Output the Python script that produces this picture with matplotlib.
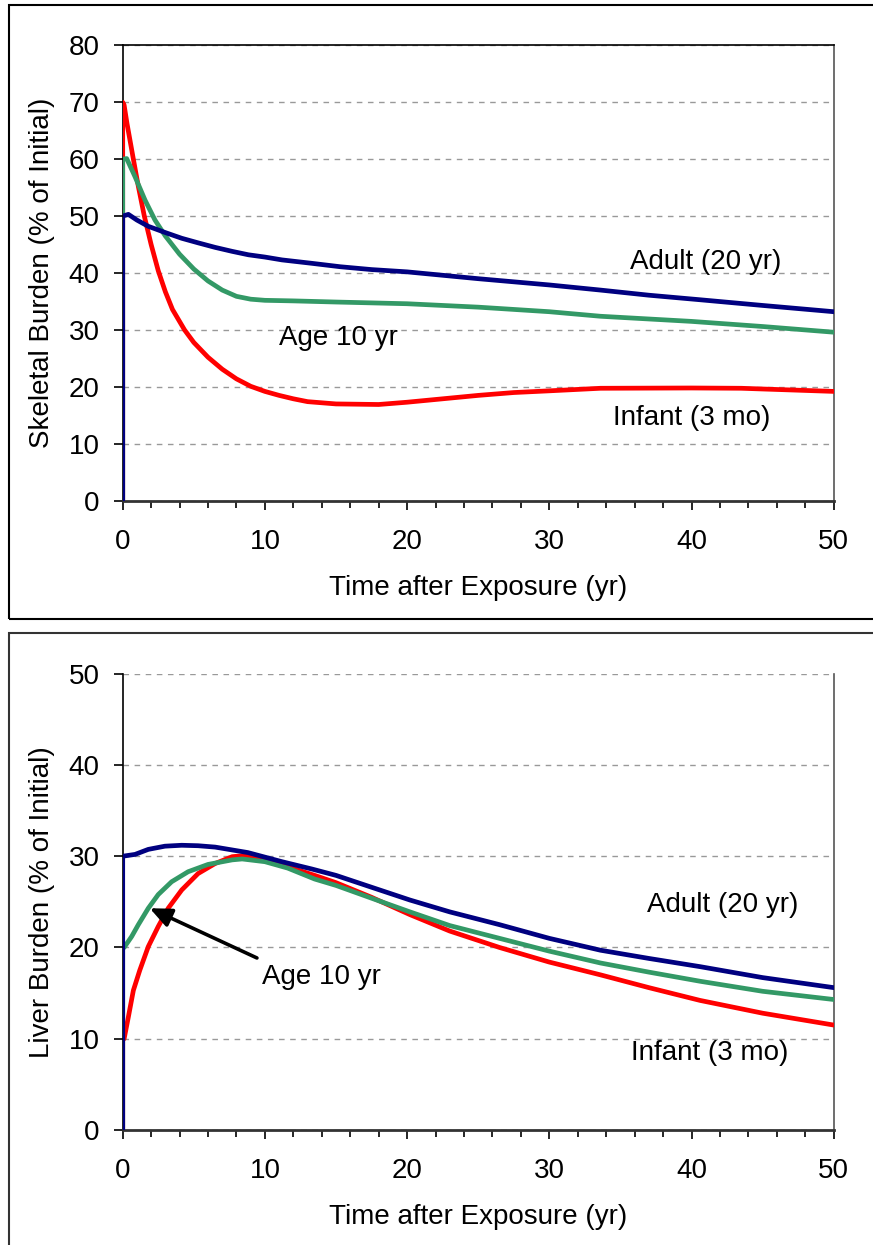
import matplotlib.pyplot as plt
from matplotlib.patches import Rectangle
from matplotlib.ticker import MultipleLocator

plt.rcParams['font.family'] = ['Liberation Sans', 'DejaVu Sans']

# skeletal burden (% of initial)
sk_adult_x = [0, 0, 0.4, 1.0, 1.8, 3.0, 4.15, 5.3, 6.5, 7.7, 8.84, 10, 11.2, 13.3, 15.3, 17.5, 20, 25, 30, 33.6, 37, 40.6, 45, 50]
sk_adult_y = [0, 50, 50.3, 49.3, 48.2, 47.1, 46.1, 45.3, 44.5, 43.8, 43.2, 42.8, 42.3, 41.7, 41.1, 40.6, 40.2, 39.0, 37.9, 37.0, 36.1, 35.3, 34.3, 33.2]

sk_age10_x = [0, 0, 0.28, 0.87, 1.57, 2.27, 3.0, 4.0, 5.0, 6.0, 7.0, 8.0, 9.0, 10, 12, 15, 20, 25, 30, 33.6, 40, 45, 50]
sk_age10_y = [0, 60, 60.1, 56.9, 52.8, 49.3, 46.5, 43.3, 40.7, 38.6, 37.0, 35.9, 35.4, 35.2, 35.1, 34.9, 34.6, 34.0, 33.2, 32.4, 31.5, 30.6, 29.6]

sk_infant_x = [0, 0, 0.1, 0.3, 0.75, 1.1, 1.52, 2.0, 2.5, 3.0, 3.5, 4.35, 5.0, 6.0, 7.0, 8.0, 9.0, 10, 11, 12, 13, 15, 18, 20, 22.5, 25, 27.5, 30, 33.6, 40, 43.5, 50]
sk_infant_y = [0, 70, 69.5, 66.3, 60.0, 55.2, 50.0, 45.0, 40.4, 36.7, 33.6, 30.0, 27.8, 25.2, 23.1, 21.4, 20.1, 19.2, 18.5, 17.9, 17.4, 17.0, 16.9, 17.3, 17.9, 18.5, 19.0, 19.3, 19.75, 19.8, 19.75, 19.2]

# liver burden (% of initial)
lv_adult_x = [0, 0, 0.87, 1.8, 2.97, 4.15, 5.3, 6.5, 8.8, 11.2, 13.3, 15, 17.5, 20.2, 23, 26.5, 30, 33.6, 37, 40.6, 45, 50]
lv_adult_y = [0, 30, 30.2, 30.75, 31.1, 31.2, 31.15, 31.0, 30.4, 29.4, 28.6, 27.9, 26.6, 25.2, 23.9, 22.5, 21.0, 19.7, 18.8, 17.9, 16.7, 15.6]

lv_age10_x = [0, 0, 0.1, 0.63, 1.1, 1.8, 2.5, 3.44, 4.6, 6.0, 7.7, 8.4, 10, 11.6, 13.5, 15, 17.5, 20.2, 23, 26.5, 30, 33.6, 37, 40.6, 45, 50]
lv_age10_y = [0, 20, 20.0, 21.2, 22.5, 24.3, 25.8, 27.2, 28.3, 29.1, 29.6, 29.7, 29.4, 28.7, 27.5, 26.8, 25.4, 23.9, 22.4, 21.0, 19.6, 18.3, 17.3, 16.3, 15.2, 14.3]

lv_infant_x = [0, 0, 0.1, 0.4, 0.75, 1.2, 1.8, 2.5, 3.2, 4.15, 5.3, 6.5, 7.7, 8.4, 10, 11.6, 13.5, 15, 17.5, 20.2, 23, 26.5, 30, 33.6, 37, 40.6, 45, 50]
lv_infant_y = [0, 10, 10.0, 12.4, 15.3, 17.5, 20.1, 22.3, 24.3, 26.3, 28.1, 29.2, 29.95, 30.05, 29.7, 28.85, 27.9, 27.1, 25.5, 23.6, 21.8, 20.0, 18.4, 17.0, 15.6, 14.2, 12.8, 11.5]

navy = '#000080'
green = '#339966'
red = '#ff0000'
fs = 20
lw = 3.4

fig = plt.figure(figsize=(8.73, 12.45), dpi=100)

# outer chart frames
fig.patches.append(Rectangle((9 / 873, 1 - 619 / 1245), 870 / 873, 614 / 1245,
                             transform=fig.transFigure, fill=False, edgecolor='black', lw=1.5))
fig.patches.append(Rectangle((9 / 873, -0.01), 870 / 873, 1 - 633 / 1245 + 0.01,
                             transform=fig.transFigure, fill=False, edgecolor='#333333', lw=1.5))

ax1 = fig.add_axes([122.7 / 873, 1 - 500.7 / 1245, 711 / 873, 455.4 / 1245])
ax2 = fig.add_axes([122.7 / 873, 1 - 1130 / 1245, 711 / 873, 456.3 / 1245])


def style(ax, ymax, ylabel, top_solid):
    ax.set_xlim(0, 50)
    ax.set_ylim(0, ymax)
    ax.xaxis.set_major_locator(MultipleLocator(10))
    ax.xaxis.set_minor_locator(MultipleLocator(2))
    ax.yaxis.set_major_locator(MultipleLocator(10))
    ax.grid(axis='y', color='#999999', linestyle=(0, (4, 4)), lw=1)
    ax.set_axisbelow(True)
    ax.tick_params(axis='x', which='major', direction='out', labelsize=fs, length=6.5, width=1.2, pad=14)
    ax.tick_params(axis='x', which='minor', direction='out', length=5, width=1.2)
    ax.tick_params(axis='y', which='major', direction='out', labelsize=fs, length=6.5, width=1.2, pad=10)
    ax.spines['left'].set_color('black')
    ax.spines['left'].set_linewidth(1.2)
    ax.spines['bottom'].set_color('#333333')
    ax.spines['bottom'].set_linewidth(2)
    ax.spines['right'].set_color('#555555')
    ax.spines['right'].set_linewidth(1.2)
    if top_solid:
        ax.spines['top'].set_color('black')
        ax.spines['top'].set_linewidth(1.2)
    else:
        ax.spines['top'].set_visible(False)
    ax.set_xlabel('Time after Exposure (yr)', fontsize=fs, labelpad=14)
    ax.set_ylabel(ylabel, fontsize=fs, labelpad=10)


style(ax1, 80, 'Skeletal Burden (% of Initial)', True)
ax1.plot(sk_infant_x, sk_infant_y, color=red, lw=lw, zorder=3)
ax1.plot(sk_age10_x, sk_age10_y, color=green, lw=lw, zorder=4)
ax1.plot(sk_adult_x, sk_adult_y, color=navy, lw=lw, zorder=5)
ax1.text(41.0, 41.9, 'Adult (20 yr)', fontsize=fs, ha='center', va='center')
ax1.text(15.2, 28.6, 'Age 10 yr', fontsize=fs, ha='center', va='center')
ax1.text(40.0, 14.5, 'Infant (3 mo)', fontsize=fs, ha='center', va='center')

style(ax2, 50, 'Liver Burden (% of Initial)', False)
ax2.plot(lv_infant_x, lv_infant_y, color=red, lw=lw, zorder=3)
ax2.plot(lv_age10_x, lv_age10_y, color=green, lw=lw, zorder=4)
ax2.plot(lv_adult_x, lv_adult_y, color=navy, lw=lw, zorder=5)
ax2.text(42.2, 24.65, 'Adult (20 yr)', fontsize=fs, ha='center', va='center')
ax2.text(41.3, 8.4, 'Infant (3 mo)', fontsize=fs, ha='center', va='center')
ax2.text(14.0, 16.8, 'Age 10 yr', fontsize=fs, ha='center', va='center')
ax2.annotate('', xy=(1.9, 24.3), xytext=(9.44, 18.85),
             arrowprops=dict(arrowstyle='-|>,head_length=0.5,head_width=0.22', color='black', lw=2.6,
                             mutation_scale=26, shrinkA=0, shrinkB=0), zorder=6)

fig.savefig('out.png', dpi=100)
